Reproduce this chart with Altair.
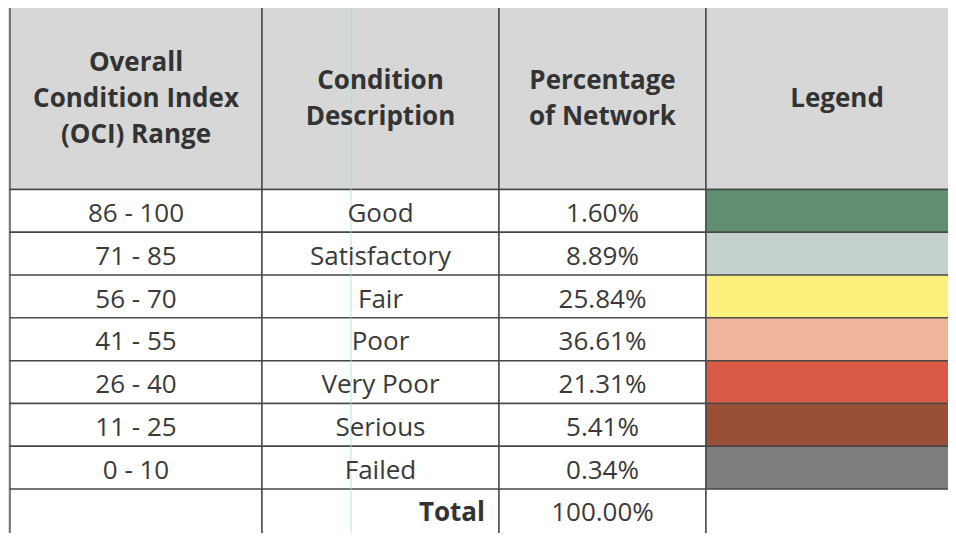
import altair as alt
import pandas as pd

# ---- data ----
oci_ranges = ["86 - 100", "71 - 85", "56 - 70", "41 - 55", "26 - 40", "11 - 25", "0 - 10"]
descriptions = ["Good", "Satisfactory", "Fair", "Poor", "Very Poor", "Serious", "Failed"]
percentages = [1.60, 8.89, 25.84, 36.61, 21.31, 5.41, 0.34]
total_label = "Total"
total_value = 100.00
legend_colors = ["#5f8f70", "#c4d1cd", "#fdf07c", "#efb59b", "#db5a46", "#9a4f37", "#7e7e7e"]
headers = ["Overall\nCondition Index\n(OCI) Range", "Condition\nDescription",
           "Percentage\nof Network", "Legend"]

# ---- layout (scale units = reference pixels) ----
COL_EDGES = [10, 262, 499, 706, 968]
HEADER_TOP = 6
HEADER_BOTTOM = 189.5
ROW_H = 42.8
LINE_H = 36
FONT = "Open Sans"
TXT = "#3a3a3a"
BORDER = "#474747"
HEADER_FILL = "#d7d7d7"
W, H = 940, 525  # plot area; page margin 8px

n_rows = len(oci_ranges) + 1  # + total row

cells = []
texts = []
# header
for c, h in enumerate(headers):
    x0, x1 = COL_EDGES[c], COL_EDGES[c + 1]
    cells.append(dict(x0=x0, x1=x1, y0=HEADER_TOP, y1=HEADER_BOTTOM, fill=HEADER_FILL))
    n_lines = h.count("\n") + 1
    yc = (HEADER_TOP + HEADER_BOTTOM) / 2 + 1 - (n_lines - 1) * LINE_H / 2
    texts.append(dict(x=(x0 + x1) / 2, y=yc, t=h, kind="header"))

for r in range(n_rows):
    y0 = HEADER_BOTTOM + r * ROW_H
    y1 = y0 + ROW_H
    ym = (y0 + y1) / 2 + 3
    if r < len(oci_ranges):
        row_vals = [oci_ranges[r], descriptions[r], f"{percentages[r]:.2f}%"]
        fills = ["#ffffff", "#ffffff", "#ffffff", legend_colors[r]]
        for c, v in enumerate(row_vals):
            x0, x1 = COL_EDGES[c], COL_EDGES[c + 1]
            texts.append(dict(x=(x0 + x1) / 2, y=ym, t=v, kind="body"))
    else:
        fills = ["#ffffff"] * 4
        texts.append(dict(x=COL_EDGES[2] - 14, y=ym - 1, t=total_label, kind="total"))
        texts.append(dict(x=(COL_EDGES[2] + COL_EDGES[3]) / 2, y=ym - 1,
                          t=f"{total_value:.2f}%", kind="body"))
        y1 = y0 + 2 * ROW_H  # table continues past the bottom edge, as in the scan
    for c in range(4):
        cells.append(dict(x0=COL_EDGES[c], x1=COL_EDGES[c + 1], y0=y0, y1=y1, fill=fills[c]))

cells_df = pd.DataFrame(cells)
texts_df = pd.DataFrame(texts)
scan_line = pd.DataFrame([dict(x=351, y0=0, y1=560)])

xs = alt.Scale(domain=[8, 8 + W])
ys = alt.Scale(domain=[8, 8 + H], reverse=True)

rects = alt.Chart(cells_df).mark_rect(stroke=BORDER, strokeWidth=1.4).encode(
    x=alt.X("x0:Q", scale=xs, axis=None),
    x2="x1:Q",
    y=alt.Y("y0:Q", scale=ys, axis=None),
    y2="y1:Q",
    fill=alt.Fill("fill:N", scale=None),
)

scan = alt.Chart(scan_line).mark_rule(color="#9fe3dc", strokeWidth=1, opacity=0.8).encode(
    x=alt.X("x:Q", scale=xs), y=alt.Y("y0:Q", scale=ys), y2="y1:Q"
)

header_text = alt.Chart(texts_df[texts_df.kind == "header"]).mark_text(
    font=FONT, fontSize=26, fontWeight="bold", color="#333333",
    lineBreak="\n", lineHeight=LINE_H, baseline="middle", align="center",
).encode(x=alt.X("x:Q", scale=xs), y=alt.Y("y:Q", scale=ys), text="t:N")

body_text = alt.Chart(texts_df[texts_df.kind == "body"]).mark_text(
    font=FONT, fontSize=26, color=TXT, baseline="middle", align="center",
).encode(x=alt.X("x:Q", scale=xs), y=alt.Y("y:Q", scale=ys), text="t:N")

total_text = alt.Chart(texts_df[texts_df.kind == "total"]).mark_text(
    font=FONT, fontSize=26, fontWeight="bold", color="#333333", baseline="middle", align="right",
).encode(x=alt.X("x:Q", scale=xs), y=alt.Y("y:Q", scale=ys), text="t:N")

chart = alt.layer(rects, scan, header_text, body_text, total_text).properties(
    width=W, height=H, padding=0, autosize=alt.AutoSizeParams(type="none"),
).configure_view(stroke=None).configure(background="#ffffff")

chart.save("out.html", embed_options={"renderer": "svg", "actions": False})
